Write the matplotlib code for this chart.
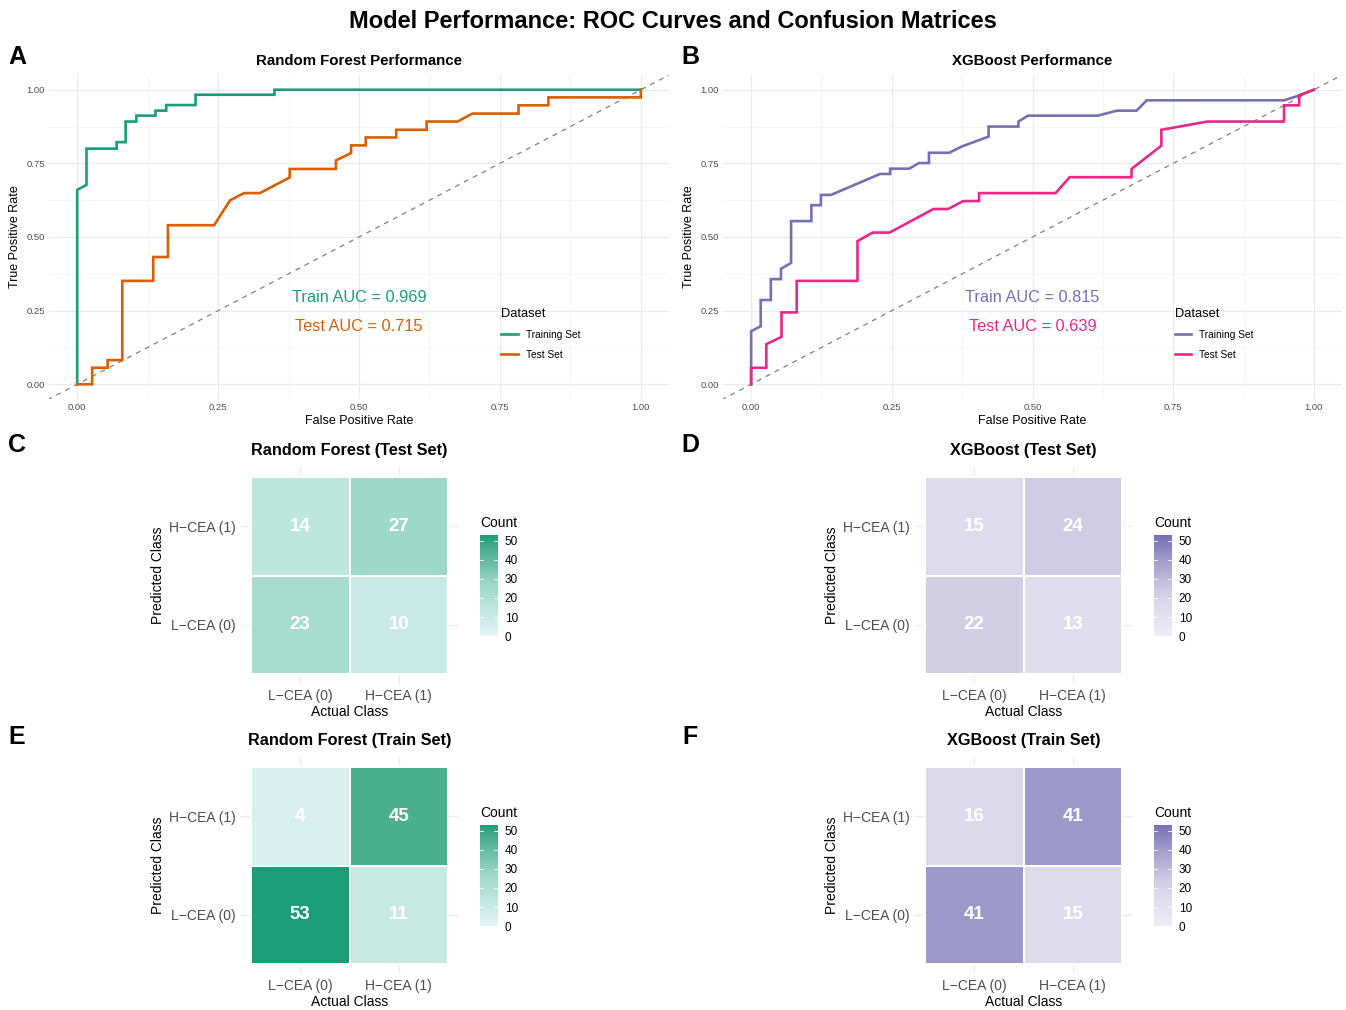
import numpy as np
import matplotlib
matplotlib.use("Agg")
import matplotlib.pyplot as plt
from matplotlib.colors import LinearSegmentedColormap
from matplotlib.lines import Line2D

plt.rcParams['font.family'] = ['Liberation Sans', 'DejaVu Sans']

# ---------------- data ----------------
rf_train_fpr = [0.0, 0.0, 0.0165, 0.0165, 0.07, 0.07, 0.086, 0.086, 0.105, 0.105, 0.139, 0.139,
                0.158, 0.158, 0.21, 0.21, 0.35, 0.35, 1.0]
rf_train_tpr = [0.0, 0.66, 0.677, 0.80, 0.80, 0.822, 0.822, 0.892, 0.892, 0.912, 0.912, 0.929,
                0.929, 0.948, 0.948, 0.983, 0.983, 1.0, 1.0]
rf_test_fpr = [0.0, 0.0266, 0.0266, 0.054, 0.054, 0.080, 0.080, 0.135, 0.135, 0.161, 0.161, 0.243,
               0.271, 0.296, 0.324, 0.377, 0.377, 0.459, 0.459, 0.486, 0.486, 0.512, 0.512, 0.566,
               0.566, 0.62, 0.62, 0.675, 0.701, 0.783, 0.783, 0.836, 0.836, 1.0, 1.0]
rf_test_tpr = [0.0, 0.0, 0.056, 0.056, 0.082, 0.082, 0.351, 0.351, 0.432, 0.432, 0.54, 0.54,
               0.624, 0.649, 0.649, 0.702, 0.731, 0.731, 0.760, 0.785, 0.811, 0.811, 0.838, 0.838,
               0.864, 0.864, 0.892, 0.892, 0.919, 0.919, 0.947, 0.947, 0.974, 0.974, 1.0]

xgb_train_fpr = [0.0, 0.0, 0.017, 0.017, 0.035, 0.035, 0.053, 0.053, 0.071, 0.071, 0.107, 0.107,
                 0.124, 0.124, 0.142, 0.229, 0.247, 0.247, 0.281, 0.298, 0.316, 0.316, 0.352, 0.374,
                 0.422, 0.422, 0.475, 0.475, 0.492, 0.616, 0.65, 0.685, 0.703, 0.947, 0.975, 1.0]
xgb_train_tpr = [0.0, 0.180, 0.197, 0.286, 0.286, 0.357, 0.357, 0.392, 0.412, 0.554, 0.554, 0.608,
                 0.608, 0.643, 0.643, 0.714, 0.714, 0.732, 0.732, 0.751, 0.751, 0.786, 0.786, 0.807,
                 0.841, 0.875, 0.875, 0.892, 0.912, 0.912, 0.929, 0.929, 0.964, 0.964, 0.981, 1.0]
xgb_test_fpr = [0.0, 0.0, 0.027, 0.027, 0.054, 0.054, 0.081, 0.081, 0.189, 0.189, 0.216, 0.246,
                0.324, 0.35, 0.377, 0.405, 0.405, 0.541, 0.566, 0.676, 0.676, 0.729, 0.729, 0.811,
                0.947, 0.947, 0.974, 0.974, 1.0]
xgb_test_tpr = [0.0, 0.056, 0.056, 0.136, 0.161, 0.244, 0.244, 0.351, 0.351, 0.486, 0.515, 0.515,
                0.595, 0.595, 0.622, 0.622, 0.649, 0.649, 0.703, 0.703, 0.731, 0.81, 0.864, 0.892,
                0.892, 0.947, 0.947, 0.981, 1.0]

auc_values = {"rf": (0.969, 0.715), "xgb": (0.815, 0.639)}

class_labels = ["L\u2212CEA (0)", "H\u2212CEA (1)"]
# rows = predicted (L, H), columns = actual (L, H)
rf_test_cm = [[23, 10], [14, 27]]
xgb_test_cm = [[22, 13], [15, 24]]
rf_train_cm = [[53, 11], [4, 45]]
xgb_train_cm = [[41, 15], [16, 41]]

colorbar_ticks = [0, 10, 20, 30, 40, 50]
count_max = 53

# ---------------- figure ----------------
W, H = 1346, 1010
fig = plt.figure(figsize=(W / 100, H / 100), dpi=100)
fig.patch.set_facecolor("white")


def ax_px(l, t, r, b):
    return fig.add_axes([l / W, 1 - b / H, (r - l) / W, (b - t) / H])


GREEN, ORANGE, PURPLE, PINK = "#1b9e77", "#d95f02", "#7570b3", "#e7298a"
GRID = "#ebebeb"
TICKC = "#4d4d4d"

fig.text(673 / W, 1 - 22 / H, "Model Performance: ROC Curves and Confusion Matrices",
         ha="center", va="center", fontsize=17, fontweight="bold")


def roc_panel(l, r, title, tr_fpr, tr_tpr, te_fpr, te_tpr, c1, c2, aucs):
    ax = ax_px(l, 75, r, 399)
    ax.set_xlim(-0.05, 1.05)
    ax.set_ylim(-0.05, 1.05)
    for v in np.arange(0, 1.01, 0.125):
        major = (v * 4) % 1 == 0
        ax.axvline(v, color=GRID if major else "#f3f3f3", lw=0.9 if major else 0.5, zorder=0)
        ax.axhline(v, color=GRID if major else "#f3f3f3", lw=0.9 if major else 0.5, zorder=0)
    ax.plot([-0.1, 1.1], [-0.1, 1.1], ls=(0, (4, 4)), color="#808080", lw=0.9, zorder=1)
    ax.plot(tr_fpr, tr_tpr, color=c1, lw=1.9, zorder=3, solid_joinstyle="miter")
    ax.plot(te_fpr, te_tpr, color=c2, lw=1.9, zorder=3, solid_joinstyle="miter")
    for s in ax.spines.values():
        s.set_visible(False)
    ticks = [0, 0.25, 0.5, 0.75, 1.0]
    ax.set_xticks(ticks)
    ax.set_yticks(ticks)
    ax.set_xticklabels(["0.00", "0.25", "0.50", "0.75", "1.00"])
    ax.set_yticklabels(["0.00", "0.25", "0.50", "0.75", "1.00"])
    ax.tick_params(length=0, labelsize=6.8, labelcolor=TICKC, pad=3)
    ax.set_xlabel("False Positive Rate", fontsize=9, labelpad=2)
    ax.set_ylabel("True Positive Rate", fontsize=9, labelpad=4)
    ax.set_title(title, fontsize=10.8, fontweight="bold", pad=7)
    ax.text(0.5, 0.295, f"Train AUC = {aucs[0]:.3f}", color=c1, fontsize=11.8, ha="center", va="center")
    ax.text(0.5, 0.197, f"Test AUC = {aucs[1]:.3f}", color=c2, fontsize=11.8, ha="center", va="center")
    handles = [Line2D([], [], color=c1, lw=1.9), Line2D([], [], color=c2, lw=1.9)]
    ax.legend(handles, ["Training Set", "Test Set"], title="Dataset", loc="upper left",
              bbox_to_anchor=(0.715, 0.31), frameon=False, fontsize=7.3,
              title_fontsize=9.3, handlelength=1.6, labelspacing=1.0, alignment="left")
    return ax


roc_panel(49, 669, "Random Forest Performance", rf_train_fpr, rf_train_tpr,
          rf_test_fpr, rf_test_tpr, GREEN, ORANGE, auc_values["rf"])
roc_panel(723, 1342, "XGBoost Performance", xgb_train_fpr, xgb_train_tpr,
          xgb_test_fpr, xgb_test_tpr, PURPLE, PINK, auc_values["xgb"])

cmap_rf = LinearSegmentedColormap.from_list(
    "rf", [(0.0, "#e6f5f8"), (4 / 53, "#d9f0ef"), (14 / 53, "#bfe6dd"), (27 / 53, "#9dd8c8"),
           (45 / 53, "#4daf8e"), (1.0, GREEN)])
cmap_xgb = LinearSegmentedColormap.from_list(
    "xgb", [(0.0, "#efeef6"), (15 / 53, "#dedbec"), (24 / 53, "#cfcce3"), (41 / 53, "#9e98ca"),
            (1.0, PURPLE)])


def cm_panel(x0, y0, title, cm, cmap):
    u = 98.5
    ax = ax_px(x0 - 0.1 * u, y0 - 0.1 * u, x0 + 2.1 * u, y0 + 2.1 * u)
    ax.set_xlim(0.4, 2.6)
    ax.set_ylim(0.4, 2.6)
    for v in [1, 2]:
        ax.axvline(v, color=GRID, lw=1.0, zorder=0)
        ax.axhline(v, color=GRID, lw=1.0, zorder=0)
    arr = np.array(cm, dtype=float)
    ax.pcolormesh([0.5, 1.5, 2.5], [0.5, 1.5, 2.5], arr, cmap=cmap, vmin=0, vmax=count_max,
                  edgecolors="white", linewidth=1.3, zorder=2)
    for i in range(2):
        for j in range(2):
            ax.text(j + 1, i + 1, str(cm[i][j]), color="white", fontsize=13.5, fontweight="bold",
                    ha="center", va="center", zorder=3)
    for s in ax.spines.values():
        s.set_visible(False)
    ax.set_xticks([1, 2])
    ax.set_yticks([1, 2])
    ax.set_xticklabels(class_labels)
    ax.set_yticklabels(class_labels)
    ax.tick_params(length=0, labelsize=10, labelcolor=TICKC, pad=4)
    ax.set_xlabel("Actual Class", fontsize=10, labelpad=1)
    ax.set_ylabel("Predicted Class", fontsize=10, labelpad=3)
    ax.set_title(title, fontsize=11.7, fontweight="bold", pad=9)
    # colorbar
    cl = x0 + 2.1 * u + 22
    ctop = y0 + 0.6 * u
    cb = ax_px(cl, ctop - 1, cl + 18, ctop + 100)
    grad = np.linspace(0, count_max, 256).reshape(-1, 1)
    cb.imshow(grad, cmap=cmap, vmin=0, vmax=count_max, aspect="auto", origin="lower",
              extent=[0, 1, 0, count_max])
    cb.set_xlim(0, 1)
    cb.set_ylim(0, count_max)
    for t in colorbar_ticks:
        cb.plot([0, 0.2], [t, t], color="white", lw=0.6)
        cb.plot([0.8, 1], [t, t], color="white", lw=0.6)
    for s in cb.spines.values():
        s.set_visible(False)
    cb.set_xticks([])
    cb.yaxis.tick_right()
    cb.set_yticks(colorbar_ticks)
    cb.tick_params(length=0, labelsize=8.5, pad=5)
    cb.set_title("Count", fontsize=10, loc="left", pad=6)


cm_panel(251, 477, "Random Forest (Test Set)", rf_test_cm, cmap_rf)
cm_panel(925, 477, "XGBoost (Test Set)", xgb_test_cm, cmap_xgb)
cm_panel(251, 767, "Random Forest (Train Set)", rf_train_cm, cmap_rf)
cm_panel(925, 767, "XGBoost (Train Set)", xgb_train_cm, cmap_xgb)

for lab, x, y in [("A", 17, 57), ("B", 690, 57), ("C", 17, 445), ("D", 690, 445),
                  ("E", 17, 737), ("F", 690, 737)]:
    fig.text(x / W, 1 - y / H, lab, fontsize=18, fontweight="bold", ha="center", va="center")

fig.savefig("out.png", dpi=100, facecolor="white")
